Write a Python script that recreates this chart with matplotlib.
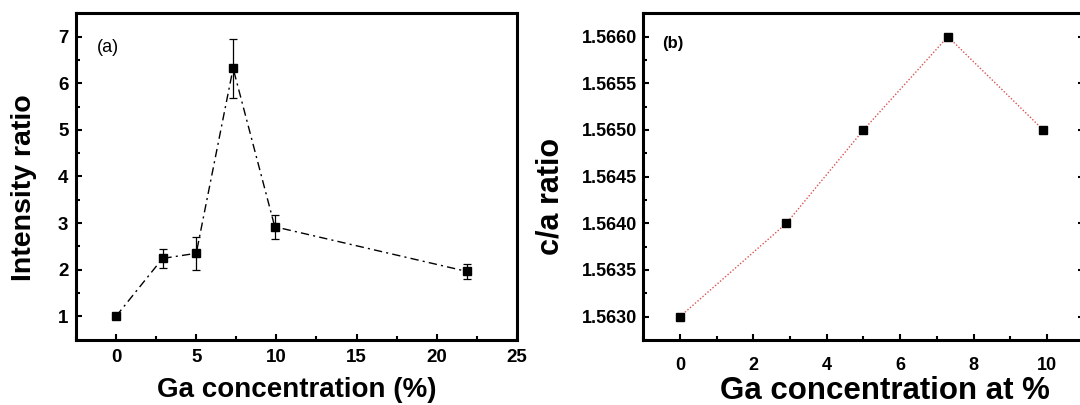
import numpy as np
import matplotlib
matplotlib.use("Agg")
import matplotlib.pyplot as plt
from matplotlib.ticker import MultipleLocator, FormatStrFormatter

# (a) intensity ratio vs Ga concentration
ga_a = [0, 2.9, 5.0, 7.3, 9.9, 21.9]
ratio_a = [1.00, 2.24, 2.35, 6.32, 2.92, 1.96]
err_a = [0.0, 0.21, 0.36, 0.63, 0.26, 0.16]

# (b) c/a ratio vs Ga concentration
ga_b = [0, 2.9, 5.0, 7.3, 9.9]
ca_b = [1.5630, 1.5640, 1.5650, 1.5660, 1.5650]

plt.rcParams.update({
    "font.family": ["Liberation Sans", "DejaVu Sans"],
    "font.weight": "bold",
    "axes.linewidth": 2.2,
})

fig = plt.figure(figsize=(10.8, 4.05), dpi=100)
ax_a = fig.add_axes([0.0704, 0.1617, 0.4081, 0.8054])
ax_b = fig.add_axes([0.5956, 0.1605, 0.4078, 0.8067])

# panel a
ax_a.plot(ga_a, ratio_a, color="black", lw=1.0, ls=(0, (6, 3, 1.5, 3)), zorder=2)
ax_a.errorbar(ga_a, ratio_a, yerr=err_a, fmt="s", color="black", ms=6.3,
              ecolor="black", elinewidth=0.9, capsize=2.6, capthick=0.9, zorder=3)
ax_a.set_xlim(-2.5, 25)
ax_a.set_ylim(0.5, 7.5)
ax_a.xaxis.set_major_locator(MultipleLocator(5))
ax_a.xaxis.set_minor_locator(MultipleLocator(2.5))
ax_a.yaxis.set_major_locator(MultipleLocator(1))
ax_a.yaxis.set_minor_locator(MultipleLocator(0.5))
ax_a.tick_params(which="both", direction="in", top=False, right=False,
                 labelsize=13.5, width=1.5)
ax_a.tick_params(which="major", length=4.5)
ax_a.tick_params(which="minor", length=2.6)
ax_a.tick_params(axis="x", pad=7)
ax_a.tick_params(axis="y", pad=5.5)
ax_a.set_xlabel("Ga concentration (%)", fontsize=20, fontweight="bold", va="baseline")
ax_a.xaxis.set_label_coords(0.5, -0.175)
ax_a.set_ylabel("Intensity ratio", fontsize=20.5, fontweight="bold", va="center")
ax_a.yaxis.set_label_coords(-0.118, 0.466)
ax_a.text(0.047, 0.895, "(a)", transform=ax_a.transAxes, fontsize=13,
          fontweight="normal", ha="left", va="center")

# panel b
ax_b.plot(ga_b, ca_b, color="#d9534f", lw=1.0, ls=(0, (1, 1.4)), zorder=2)
ax_b.plot(ga_b, ca_b, "s", color="black", ms=5.8, zorder=3)
ax_b.set_xlim(-1, 11)
ax_b.set_ylim(1.56275, 1.56625)
ax_b.xaxis.set_major_locator(MultipleLocator(2))
ax_b.xaxis.set_minor_locator(MultipleLocator(1))
ax_b.yaxis.set_major_locator(MultipleLocator(0.0005))
ax_b.yaxis.set_minor_locator(MultipleLocator(0.00025))
ax_b.yaxis.set_major_formatter(FormatStrFormatter("%.4f"))
ax_b.tick_params(which="both", direction="in", top=False, right=True,
                 labelsize=13, width=1.5)
ax_b.tick_params(which="major", length=4.5)
ax_b.tick_params(which="minor", length=2.6)
ax_b.tick_params(axis="x", pad=12)
ax_b.tick_params(axis="y", pad=4.5)
ax_b.set_xlabel("Ga concentration at %", fontsize=22.5, fontweight="bold", va="baseline")
ax_b.xaxis.set_label_coords(0.549, -0.182)
ax_b.set_ylabel("c/a ratio", fontsize=22, fontweight="bold", va="center")
ax_b.yaxis.set_label_coords(-0.2096, 0.4386)
ax_b.text(0.043, 0.907, "(b)", transform=ax_b.transAxes, fontsize=12,
          fontweight="bold", ha="left", va="center")

fig.savefig("out.png", dpi=100, facecolor="white")
